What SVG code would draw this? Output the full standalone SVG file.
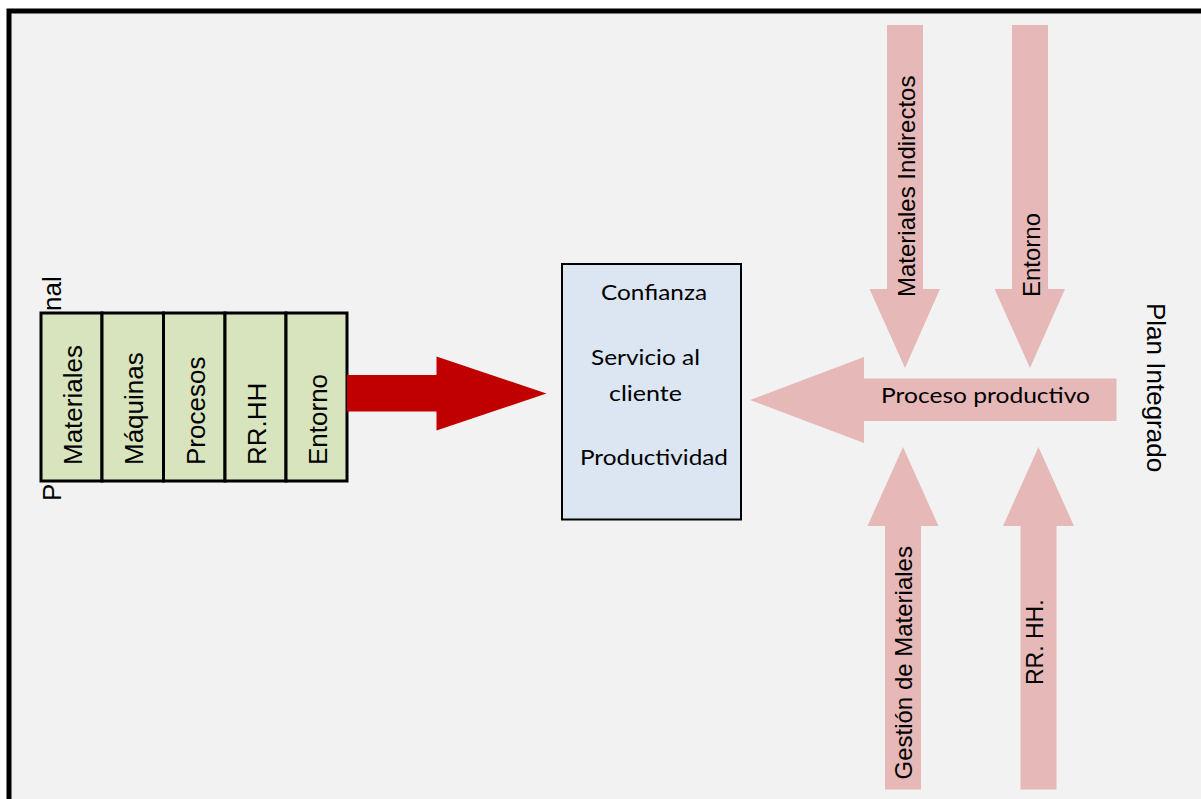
<svg xmlns="http://www.w3.org/2000/svg" width="1201" height="799" viewBox="0 0 1201 799">
<defs>
<style>
.ar{font-family:"Liberation Sans",Arial,sans-serif;fill:#000}
.cb{font-family:Lato,"Liberation Sans",sans-serif;fill:#000;font-size:22px}
.pink{fill:#e6b9b8}
.cell{fill:#d7e4bd;stroke:#000;stroke-width:3}
</style>
</defs>
<rect x="0" y="0" width="1201" height="799" fill="#ffffff"/>
<rect id="frame" x="9" y="11" width="1200" height="800" fill="#f2f2f2" stroke="#000" stroke-width="5"/>

<g id="personal-label">
<text class="ar" font-size="26" transform="translate(61,501) rotate(-90)">P<tspan x="139.4">ersonal</tspan></text>
</g>

<g id="factores">
<rect class="cell" x="41" y="313" width="61" height="168"/>
<rect class="cell" x="102" y="313" width="61.5" height="168"/>
<rect class="cell" x="163.5" y="313" width="61.5" height="168"/>
<rect class="cell" x="225" y="313" width="61" height="168"/>
<rect class="cell" x="286" y="313" width="61" height="168"/>
<text class="ar" font-size="26" transform="translate(81.5,465) rotate(-90)">Materiales</text>
<text class="ar" font-size="26" transform="translate(143,465) rotate(-90)">Máquinas</text>
<text class="ar" font-size="26" transform="translate(204.5,465) rotate(-90)">Procesos</text>
<text class="ar" font-size="26" transform="translate(266,465) rotate(-90)">RR.HH</text>
<text class="ar" font-size="26" transform="translate(327,465) rotate(-90)">Entorno</text>
</g>

<g id="connectors">
<path d="M347,375 H436.5 V356.5 L546.5,393.5 L436.5,430.5 V411.5 H347 Z" fill="#c00000"/>
</g>

<g id="resultados">
<rect x="562" y="264" width="179" height="255.5" fill="#dce6f2" stroke="#000" stroke-width="2"/>
<text class="cb" x="601" y="300" textLength="106" lengthAdjust="spacingAndGlyphs">Confianza</text>
<text class="cb" x="591" y="365" textLength="109" lengthAdjust="spacingAndGlyphs">Servicio al</text>
<text class="cb" x="609" y="401" textLength="73" lengthAdjust="spacingAndGlyphs">cliente</text>
<text class="cb" x="580" y="465" textLength="148" lengthAdjust="spacingAndGlyphs">Productividad</text>
</g>

<g id="proceso-productivo">
<path class="pink" d="M750,400 L864,357 V378.5 H1116.5 V421 H864 V443 Z"/>
<text class="cb" font-size="23" x="881" y="403" textLength="209" lengthAdjust="spacingAndGlyphs">Proceso productivo</text>
</g>

<g id="materiales-indirectos">
<path class="pink" d="M887,25 H923 V289 H940 L905,368 L869.5,289 H887 Z"/>
<text class="ar" font-size="24" transform="translate(915,297) rotate(-90)">Materiales Indirectos</text>
</g>

<g id="entorno">
<path class="pink" d="M1012,25 H1048 V289 H1065 L1030,368 L994.5,289 H1012 Z"/>
<text class="ar" font-size="24" transform="translate(1040,297) rotate(-90)">Entorno</text>
</g>

<g id="gestion-materiales">
<path class="pink" d="M903,447 L938.5,526 H921 V789.5 H885 V526 H867.5 Z"/>
<text class="ar" font-size="24" transform="translate(911.5,779.5) rotate(-90)">Gestión de Materiales</text>
</g>

<g id="rrhh">
<path class="pink" d="M1038.5,447 L1074,526 H1056.5 V789.5 H1020.5 V526 H1003 Z"/>
<text class="ar" font-size="23" transform="translate(1043,685) rotate(-90)">RR. HH.</text>
</g>

<g id="plan-integrado">
<text class="ar" font-size="26" transform="translate(1147,303) rotate(90)">Plan Integrado</text>
</g>
</svg>
